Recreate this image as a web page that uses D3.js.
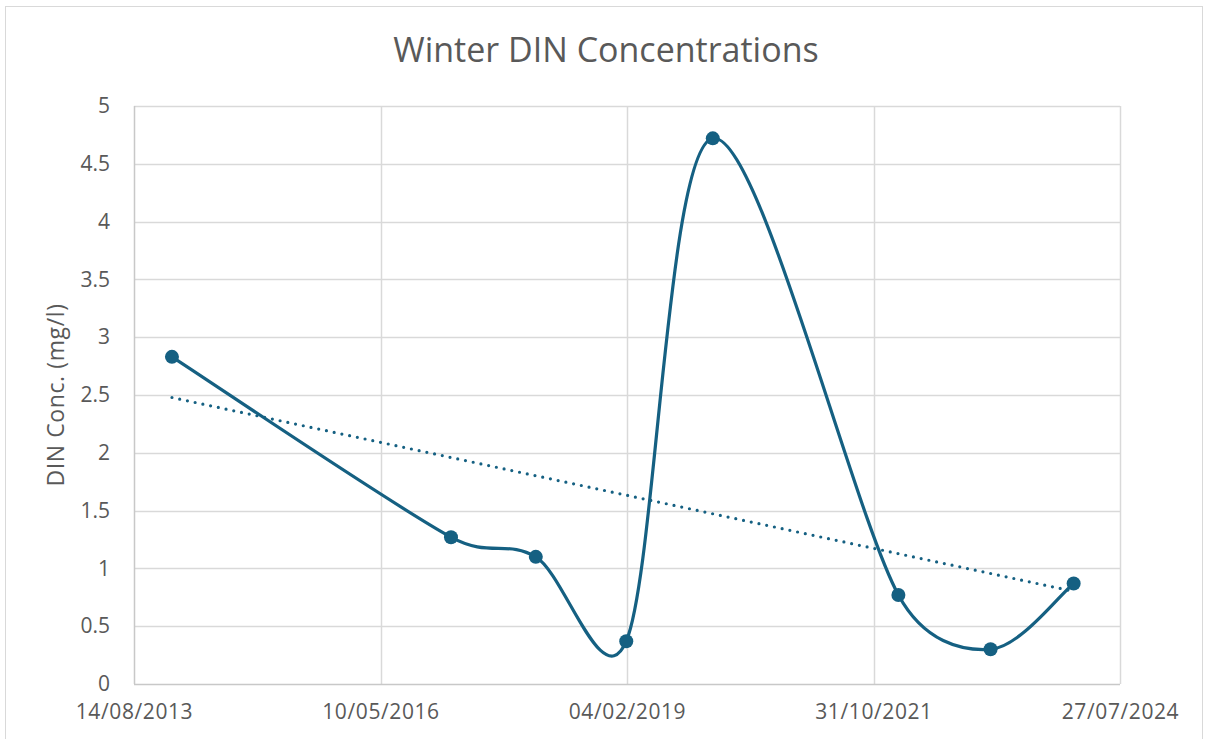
<!DOCTYPE html>
<html>
<head>
<meta charset="utf-8">
<script src="https://cdn.jsdelivr.net/npm/d3@7"></script>
<style>
  html, body { margin: 0; padding: 0; background: #fff; }
  svg { display: block; }
  text { font-family: "Open Sans", "Liberation Sans", Arial, sans-serif; fill: #595959; }
</style>
</head>
<body>
<svg id="chart" width="1208" height="739"></svg>
<script>
// ---- data ----
const sampleDates = ["2014-01-15", "2017-02-20", "2018-01-30", "2019-02-01", "2020-01-18", "2022-02-09", "2023-02-18", "2024-01-21"];
const dinValues = [2.83, 1.27, 1.10, 0.37, 4.72, 0.77, 0.30, 0.87];
const xTickLabels = ["14/08/2013", "10/05/2016", "04/02/2019", "31/10/2021", "27/07/2024"];
const yTickValues = [0, 0.5, 1, 1.5, 2, 2.5, 3, 3.5, 4, 4.5, 5];
const chartTitle = "Winter DIN Concentrations";
const yAxisTitle = "DIN Conc. (mg/l)";

const parseDMY = d3.timeParse("%d/%m/%Y");
const parseISO = d3.timeParse("%Y-%m-%d");
const xTicks = xTickLabels.map(parseDMY);
const points = sampleDates.map((d, i) => ({ date: parseISO(d), value: dinValues[i] }));

const svg = d3.select("#chart");
const W = 1208, H = 739;
const plot = { left: 134, right: 1120, top: 106, bottom: 684 };
const color = "#156082";
const fontFam = '"Open Sans", "Liberation Sans", Arial, sans-serif';

// outer border
svg.append("rect").attr("x", 5.5).attr("y", 6.5).attr("width", W - 11).attr("height", H - 6)
  .attr("fill", "#fff").attr("stroke", "#d9d9d9").attr("stroke-width", 1);

const x = d3.scaleTime().domain([xTicks[0], xTicks[xTicks.length - 1]]).range([plot.left, plot.right]);
const y = d3.scaleLinear().domain([0, 5]).range([plot.bottom, plot.top]);

// gridlines
const g = svg.append("g");
g.selectAll("line.h").data(yTickValues.slice(1)).join("line")
  .attr("x1", plot.left).attr("x2", plot.right)
  .attr("y1", d => Math.round(y(d)) + 0.5).attr("y2", d => Math.round(y(d)) + 0.5)
  .attr("stroke", "#d9d9d9").attr("stroke-width", 1.5);
g.selectAll("line.v").data(xTicks.slice(1)).join("line")
  .attr("x1", d => Math.round(x(d)) + 0.5).attr("x2", d => Math.round(x(d)) + 0.5)
  .attr("y1", plot.top).attr("y2", plot.bottom)
  .attr("stroke", "#d9d9d9").attr("stroke-width", 1.5);

// axes lines
svg.append("line").attr("x1", plot.left + 0.5).attr("x2", plot.left + 0.5)
  .attr("y1", plot.top).attr("y2", plot.bottom).attr("stroke", "#c8c8c8").attr("stroke-width", 1.5);
svg.append("line").attr("x1", plot.left).attr("x2", plot.right)
  .attr("y1", plot.bottom + 0.5).attr("y2", plot.bottom + 0.5).attr("stroke", "#c8c8c8").attr("stroke-width", 1.5);

// y axis labels
const yAxis = d3.axisLeft(y).tickValues(yTickValues).tickSize(0).tickPadding(0).tickFormat(d3.format("~g"));
const ya = svg.append("g").attr("transform", `translate(${plot.left - 24},0)`).call(yAxis);
ya.select(".domain").remove();
ya.selectAll("text").attr("font-size", 21).attr("fill", "#595959").style("font-family", fontFam);

// x axis labels
const xAxis = d3.axisBottom(x).tickValues(xTicks).tickSize(0).tickPadding(0).tickFormat(d3.timeFormat("%d/%m/%Y"));
const xa = svg.append("g").attr("transform", `translate(0,${plot.bottom + 20})`).call(xAxis);
xa.select(".domain").remove();
xa.selectAll("text").attr("font-size", 21).attr("fill", "#595959").style("font-family", fontFam)
  .style("letter-spacing", "0.6px");

// title
svg.append("text").attr("x", 606).attr("y", 62).attr("text-anchor", "middle")
  .attr("font-size", 34).text(chartTitle);

// y axis title
svg.append("text").attr("transform", `translate(64,${(plot.top + plot.bottom) / 2}) rotate(-90)`)
  .attr("text-anchor", "middle").attr("font-size", 23).style("letter-spacing", "0.6px").text(yAxisTitle);

// trendline (least squares)
const xs = points.map(p => +p.date), ys = points.map(p => p.value);
const mx = d3.mean(xs), my = d3.mean(ys);
const slope = d3.sum(xs.map((v, i) => (v - mx) * (ys[i] - my))) / d3.sum(xs.map(v => (v - mx) ** 2));
const icpt = my - slope * mx;
const trend = [xs[0], xs[xs.length - 1]].map(v => ({ date: new Date(v), value: icpt + slope * v }));
svg.append("path").datum(trend)
  .attr("d", d3.line().x(d => x(d.date)).y(d => y(d.value)))
  .attr("fill", "none").attr("stroke", color).attr("stroke-width", 3.2)
  .attr("stroke-linecap", "round").attr("stroke-dasharray", "0 7.9");

// smoothed line (spreadsheet-style Bezier smoothing: tangent/6, capped at half segment)
function smoothPath(pts) {
  const P = pts.map(d => [x(d.date), y(d.value)]);
  const dist = (a, b) => Math.hypot(b[0] - a[0], b[1] - a[1]);
  const p = d3.path();
  p.moveTo(P[0][0], P[0][1]);
  for (let i = 0; i < P.length - 1; i++) {
    const p0 = P[Math.max(i - 1, 0)], p1 = P[i], p2 = P[i + 1], p3 = P[Math.min(i + 2, P.length - 1)];
    const d12 = dist(p1, p2), d02 = dist(p0, p2), d13 = dist(p1, p3);
    const f1 = d02 / 6 < d12 / 2 ? 1 / 6 : (d12 / 2) / d02;
    const f2 = d13 / 6 < d12 / 2 ? 1 / 6 : (d12 / 2) / d13;
    const c1 = [p1[0] + (p2[0] - p0[0]) * f1, p1[1] + (p2[1] - p0[1]) * f1];
    const c2 = [p2[0] - (p3[0] - p1[0]) * f2, p2[1] - (p3[1] - p1[1]) * f2];
    p.bezierCurveTo(c1[0], c1[1], c2[0], c2[1], p2[0], p2[1]);
  }
  return p.toString();
}
svg.append("path").datum(points)
  .attr("d", smoothPath)
  .attr("fill", "none").attr("stroke", color).attr("stroke-width", 3.2);

// markers
svg.selectAll("circle.pt").data(points).join("circle")
  .attr("cx", d => x(d.date)).attr("cy", d => y(d.value)).attr("r", 7)
  .attr("fill", color);
</script>
</body>
</html>
